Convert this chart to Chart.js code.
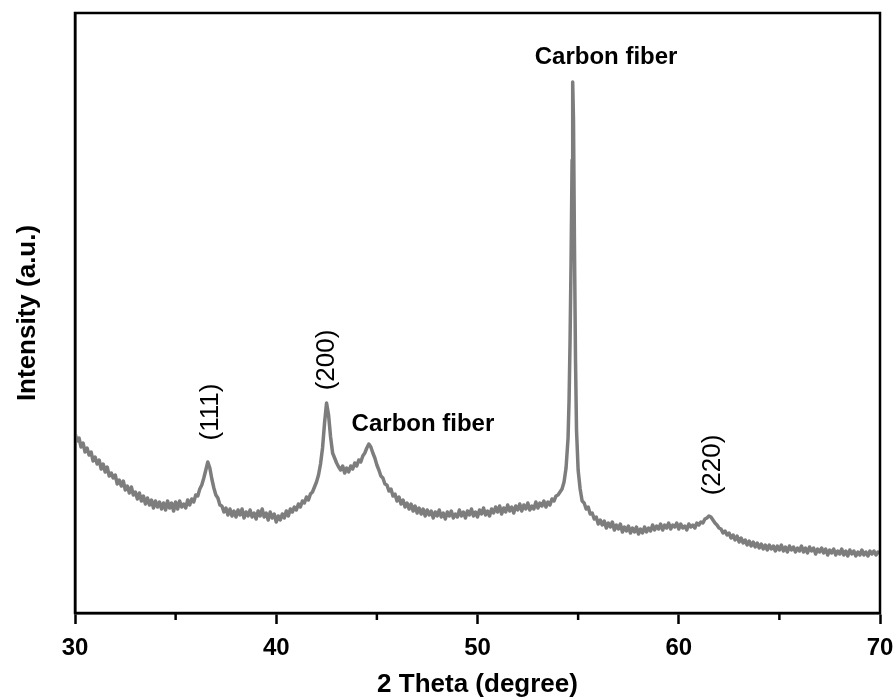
<!DOCTYPE html>
<html>
<head>
<meta charset="utf-8">
<script src="https://cdn.jsdelivr.net/npm/chart.js@4.4.1/dist/chart.umd.min.js"></script>
<style>
  html, body { margin: 0; padding: 0; background: #fff; }
</style>
</head>
<body>
<canvas id="grafico" width="896" height="698"></canvas>
<script>
// XRD pattern (intensity in arbitrary units)
const twoTheta = [
  30.0, 30.1, 30.2, 30.3, 30.4, 30.5, 30.6, 30.7, 30.8, 30.9,
  31.0, 31.1, 31.2, 31.3, 31.4, 31.5, 31.6, 31.7, 31.8, 31.9,
  32.0, 32.1, 32.2, 32.3, 32.4, 32.5, 32.6, 32.7, 32.8, 32.9,
  33.0, 33.1, 33.2, 33.3, 33.4, 33.5, 33.6, 33.7, 33.8, 33.9,
  34.0, 34.1, 34.2, 34.3, 34.4, 34.5, 34.6, 34.7, 34.8, 34.9,
  35.0, 35.1, 35.2, 35.3, 35.4, 35.5, 35.6, 35.7, 35.8, 35.9,
  36.0, 36.1, 36.2, 36.3, 36.4, 36.5, 36.6, 36.7, 36.8, 36.9,
  37.0, 37.1, 37.2, 37.3, 37.4, 37.5, 37.6, 37.7, 37.8, 37.9,
  38.0, 38.1, 38.2, 38.3, 38.4, 38.5, 38.6, 38.7, 38.8, 38.9,
  39.0, 39.1, 39.2, 39.3, 39.4, 39.5, 39.6, 39.7, 39.8, 39.9,
  40.0, 40.1, 40.2, 40.3, 40.4, 40.5, 40.6, 40.7, 40.8, 40.9,
  41.0, 41.1, 41.2, 41.3, 41.4, 41.5, 41.6, 41.7, 41.8, 41.9,
  42.0, 42.1, 42.2, 42.3, 42.4, 42.5, 42.6, 42.7, 42.8, 42.9,
  43.0, 43.1, 43.2, 43.3, 43.4, 43.5, 43.6, 43.7, 43.8, 43.9,
  44.0, 44.1, 44.2, 44.3, 44.4, 44.5, 44.6, 44.7, 44.8, 44.9,
  45.0, 45.1, 45.2, 45.3, 45.4, 45.5, 45.6, 45.7, 45.8, 45.9,
  46.0, 46.1, 46.2, 46.3, 46.4, 46.5, 46.6, 46.7, 46.8, 46.9,
  47.0, 47.1, 47.2, 47.3, 47.4, 47.5, 47.6, 47.7, 47.8, 47.9,
  48.0, 48.1, 48.2, 48.3, 48.4, 48.5, 48.6, 48.7, 48.8, 48.9,
  49.0, 49.1, 49.2, 49.3, 49.4, 49.5, 49.6, 49.7, 49.8, 49.9,
  50.0, 50.1, 50.2, 50.3, 50.4, 50.5, 50.6, 50.7, 50.8, 50.9,
  51.0, 51.1, 51.2, 51.3, 51.4, 51.5, 51.6, 51.7, 51.8, 51.9,
  52.0, 52.1, 52.2, 52.3, 52.4, 52.5, 52.6, 52.7, 52.8, 52.9,
  53.0, 53.1, 53.2, 53.3, 53.4, 53.5, 53.6, 53.7, 53.8, 53.9,
  54.0, 54.1, 54.2, 54.3, 54.4, 54.5, 54.55, 54.6, 54.65, 54.7,
  54.73, 54.77, 54.82, 54.87, 54.92, 55.0, 55.1, 55.2, 55.3, 55.4,
  55.5, 55.6, 55.7, 55.8, 55.9,
  56.0, 56.1, 56.2, 56.3, 56.4, 56.5, 56.6, 56.7, 56.8, 56.9,
  57.0, 57.1, 57.2, 57.3, 57.4, 57.5, 57.6, 57.7, 57.8, 57.9,
  58.0, 58.1, 58.2, 58.3, 58.4, 58.5, 58.6, 58.7, 58.8, 58.9,
  59.0, 59.1, 59.2, 59.3, 59.4, 59.5, 59.6, 59.7, 59.8, 59.9,
  60.0, 60.1, 60.2, 60.3, 60.4, 60.5, 60.6, 60.7, 60.8, 60.9,
  61.0, 61.1, 61.2, 61.3, 61.4, 61.5, 61.6, 61.7, 61.8, 61.9,
  62.0, 62.1, 62.2, 62.3, 62.4, 62.5, 62.6, 62.7, 62.8, 62.9,
  63.0, 63.1, 63.2, 63.3, 63.4, 63.5, 63.6, 63.7, 63.8, 63.9,
  64.0, 64.1, 64.2, 64.3, 64.4, 64.5, 64.6, 64.7, 64.8, 64.9,
  65.0, 65.1, 65.2, 65.3, 65.4, 65.5, 65.6, 65.7, 65.8, 65.9,
  66.0, 66.1, 66.2, 66.3, 66.4, 66.5, 66.6, 66.7, 66.8, 66.9,
  67.0, 67.1, 67.2, 67.3, 67.4, 67.5, 67.6, 67.7, 67.8, 67.9,
  68.0, 68.1, 68.2, 68.3, 68.4, 68.5, 68.6, 68.7, 68.8, 68.9,
  69.0, 69.1, 69.2, 69.3, 69.4, 69.5, 69.6, 69.7, 69.8, 69.9,
  70.0
];
const intensity = [
  180, 172, 175, 166, 170, 161, 165, 158, 161, 152,
  156, 149, 153, 144, 149, 141, 146, 137, 140, 135,
  138, 129, 133, 127, 132, 123, 127, 120, 126, 118,
  121, 114, 120, 112, 117, 109, 115, 108, 113, 105,
  112, 106, 111, 104, 110, 103, 112, 105, 110, 102,
  111, 104, 112, 106, 109, 105, 113, 108, 114, 111,
  118, 117, 124, 128, 135, 143, 151, 145, 134, 125,
  118, 115, 108, 107, 101, 105, 98, 104, 97, 102,
  96, 103, 98, 104, 95, 101, 97, 103, 96, 100,
  94, 102, 97, 104, 96, 100, 93, 101, 95, 99,
  91, 97, 93, 99, 95, 102, 97, 104, 101, 106,
  103, 109, 106, 112, 110, 116, 113, 119, 121, 126,
  131, 138, 149, 165, 190, 210, 198, 176, 160, 155,
  150, 146, 143, 147, 140, 145, 141, 147, 144, 150,
  147, 153, 151, 157, 160, 165, 169, 166, 160, 155,
  148, 143, 137, 135, 129, 128, 122, 124, 117, 119,
  112, 116, 109, 113, 106, 110, 104, 109, 102, 107,
  100, 105, 99, 104, 97, 103, 98, 102, 95, 101,
  97, 103, 96, 100, 94, 101, 97, 102, 95, 99,
  96, 103, 97, 101, 95, 102, 98, 104, 97, 101,
  96, 103, 99, 105, 98, 102, 97, 104, 100, 106,
  101, 107, 99, 105, 101, 108, 102, 106, 100, 107,
  103, 109, 102, 108, 104, 110, 103, 107, 104, 111,
  105, 110, 107, 112, 106, 111, 108, 114, 112, 117,
  118, 121, 124, 131, 145, 175, 213, 273, 353, 453,
  531, 493, 363, 253, 183, 143, 124, 112, 110, 104,
  106, 99, 100, 94, 96,
  89, 93, 88, 92, 85, 90, 86, 91, 83, 88,
  84, 89, 81, 86, 82, 87, 80, 85, 81, 86,
  79, 84, 80, 86, 81, 85, 82, 88, 83, 87,
  84, 89, 83, 88, 85, 90, 84, 88, 86, 90,
  84, 89, 85, 87, 83, 89, 86, 88, 85, 90,
  88, 91, 90, 94, 95, 97, 96, 93, 90, 88,
  85, 84, 80, 82, 78, 80, 75, 78, 73, 77,
  71, 75, 70, 73, 68, 72, 67, 71, 66, 70,
  65, 69, 64, 68, 63, 68, 64, 67, 62, 67,
  63, 68, 62, 66, 61, 67, 63, 66, 61, 65,
  62, 67, 61, 65, 60, 66, 62, 65, 59, 64,
  61, 65, 60, 64, 58, 63, 60, 64, 58, 62,
  59, 64, 58, 62, 57, 63, 59, 62, 57, 61,
  58, 63, 58, 61, 57, 62, 59, 62, 58, 61,
  60
];

// eixo x
const xMin = 30, xMax = 70;
const majorTicks = [30, 40, 50, 60, 70];
const minorTicks = [35, 45, 55, 65];

// rótulos dos picos
const peakText  = ['(111)', '(200)', 'Carbon fiber', 'Carbon fiber', '(220)'];
const peakTheta = [36.73, 42.5, 47.29, 56.39, 61.7];
const peakInt   = [201, 253, 189, 556, 148];

const FONT = "'Liberation Sans', Arial, sans-serif";

// moldura, ticks menores e textos dos picos
const extras = {
  id: 'extras',
  afterDraw(chart) {
    const { ctx, chartArea: a, scales: { x, y } } = chart;
    ctx.save();
    ctx.strokeStyle = '#000';
    ctx.lineWidth = 2.5;
    ctx.strokeRect(a.left, a.top, a.right - a.left, a.bottom - a.top);

    minorTicks.forEach(v => {
      const px = x.getPixelForValue(v);
      ctx.beginPath();
      ctx.moveTo(px, a.bottom);
      ctx.lineTo(px, a.bottom + 7);
      ctx.stroke();
    });

    ctx.fillStyle = '#000';
    ctx.textAlign = 'center';
    ctx.textBaseline = 'middle';
    peakText.forEach((t, i) => {
      const px = x.getPixelForValue(peakTheta[i]);
      const py = y.getPixelForValue(peakInt[i]);
      ctx.save();
      ctx.translate(px, py);
      if (t.startsWith('(')) {
        ctx.rotate(-Math.PI / 2);
        ctx.font = '26px ' + FONT;
      } else {
        ctx.font = 'bold 24px ' + FONT;
      }
      ctx.fillText(t, 0, 0);
      ctx.restore();
    });
    ctx.restore();
  }
};

new Chart(document.getElementById('grafico'), {
  type: 'line',
  data: {
    datasets: [{
      data: twoTheta.map((t, i) => ({ x: t, y: intensity[i] })),
      borderColor: '#7d7d7d',
      borderWidth: 3.5,
      pointRadius: 0,
      tension: 0,
      borderJoinStyle: 'round',
      fill: false
    }]
  },
  options: {
    responsive: false,
    animation: false,
    devicePixelRatio: 1,
    layout: { padding: { top: 13, right: 16, left: 0, bottom: 0 } },
    plugins: {
      legend: { display: false },
      tooltip: { enabled: false }
    },
    scales: {
      x: {
        type: 'linear',
        min: xMin,
        max: xMax,
        afterBuildTicks: s => { s.ticks = majorTicks.map(v => ({ value: v })); },
        afterFit: s => { s.height = 85; s.paddingLeft = 0; s.paddingRight = 0; },
        ticks: {
          color: '#000',
          padding: 10,
          maxRotation: 0,
          font: { family: FONT, size: 24, weight: 'bold' }
        },
        grid: {
          drawOnChartArea: false,
          tickLength: 11,
          tickWidth: 2.5,
          tickColor: '#000'
        },
        border: { color: '#000', width: 2.5 },
        title: {
          display: true,
          text: '2 Theta (degree)',
          color: '#000',
          padding: { top: 0, bottom: 0 },
          font: { family: FONT, size: 26, weight: 'bold', lineHeight: 1 }
        }
      },
      y: {
        min: 0,
        max: 600,
        afterFit: s => { s.width = 75; },
        ticks: { display: false },
        grid: { display: false },
        border: { color: '#000', width: 2.5 },
        title: {
          display: true,
          text: 'Intensity (a.u.)',
          color: '#000',
          padding: { top: 15, bottom: 0 },
          font: { family: FONT, size: 26, weight: 'bold', lineHeight: 1 }
        }
      }
    }
  },
  plugins: [extras]
});
</script>
</body>
</html>
